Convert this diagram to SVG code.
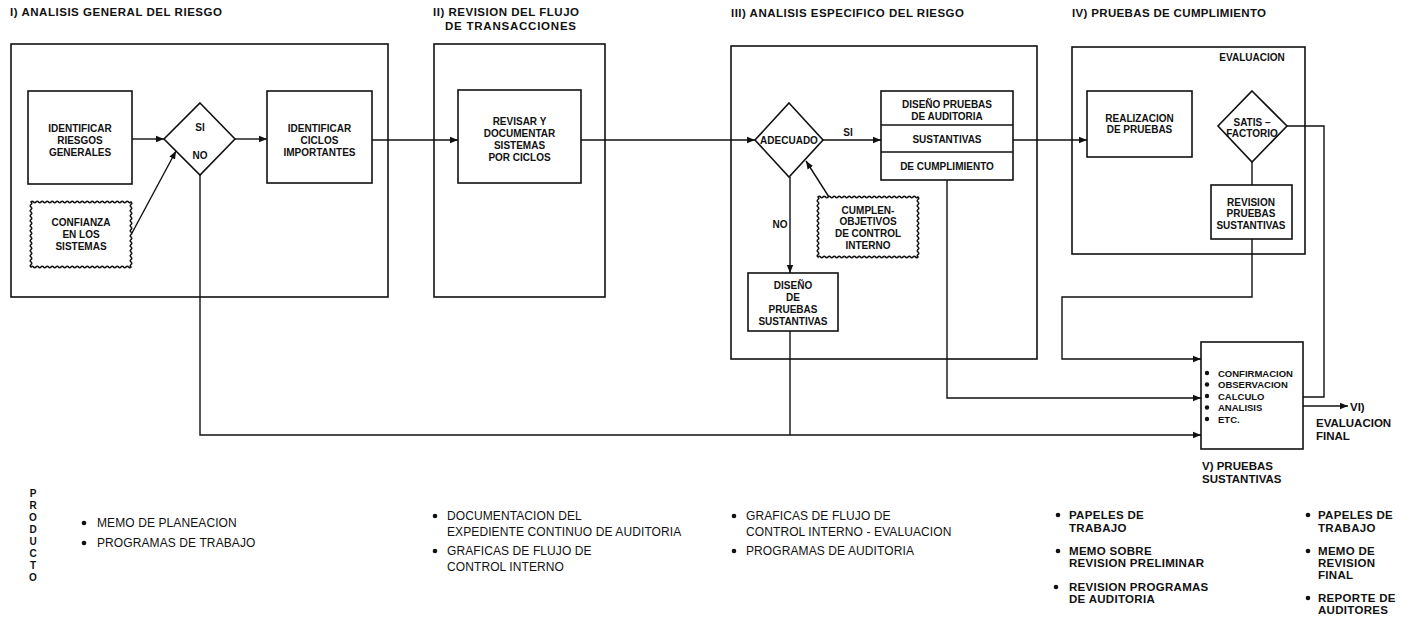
<svg xmlns="http://www.w3.org/2000/svg" width="1411" height="621" viewBox="0 0 1411 621">
<style>
.box{fill:none;stroke:#111;stroke-width:1.6}
.ln{fill:none;stroke:#111;stroke-width:1.4}
.arr{marker-end:url(#ah)}
text{font-family:"Liberation Sans",Arial,sans-serif;fill:#111}
.nb{font-size:10px;font-weight:bold;text-anchor:middle}
.vb{font-size:9.5px;font-weight:bold}
.ti{font-size:11.5px;font-weight:bold}
.bt{font-size:12px;letter-spacing:0.1px}
.bb{font-size:11.5px;font-weight:bold;letter-spacing:0.3px}
.pr{font-size:10px;font-weight:bold;text-anchor:middle}
</style>
<defs>
<marker id="ah" viewBox="0 0 10 10" refX="10" refY="5" markerWidth="8" markerHeight="8" markerUnits="userSpaceOnUse" orient="auto"><path d="M0,1 L10,5 L0,9 z" fill="#111"/></marker>
</defs>
<rect width="1411" height="621" fill="#fff"/>

<g id="titles">
<text class="ti" x="10" y="16" textLength="212">I) ANALISIS GENERAL DEL RIESGO</text>
<text class="ti" x="433" y="16" textLength="146">II) REVISION DEL FLUJO</text>
<text class="ti" x="445" y="30" textLength="131">DE TRANSACCIONES</text>
<text class="ti" x="731" y="17" textLength="233">III) ANALISIS ESPECIFICO DEL RIESGO</text>
<text class="ti" x="1072" y="17" textLength="194">IV) PRUEBAS DE CUMPLIMIENTO</text>
</g>

<g id="stage-I"><rect class="box" x="11" y="44" width="377" height="253"/></g>
<g id="stage-II"><rect class="box" x="434" y="44" width="171" height="253"/></g>
<g id="stage-III"><rect class="box" x="731" y="46" width="306" height="313"/></g>
<g id="stage-IV"><rect class="box" x="1072" y="47" width="233" height="207"/>
<text class="nb" x="1252" y="61">EVALUACION</text></g>

<g id="riesgos">
<rect class="box" x="28" y="91" width="104" height="93"/>
<text class="nb" x="80" y="131.5">IDENTIFICAR</text>
<text class="nb" x="80" y="143.5">RIESGOS</text>
<text class="nb" x="80" y="155.5">GENERALES</text>
</g>

<g id="confianza">
<path class="box" d="M31,202 q1.25,-1.5 2.5,0 t2.5,0 t2.5,0 t2.5,0 t2.5,0 t2.5,0 t2.5,0 t2.5,0 t2.5,0 t2.5,0 t2.5,0 t2.5,0 t2.5,0 t2.5,0 t2.5,0 t2.5,0 t2.5,0 t2.5,0 t2.5,0 t2.5,0 t2.5,0 t2.5,0 t2.5,0 t2.5,0 t2.5,0 t2.5,0 t2.5,0 t2.5,0 t2.5,0 t2.5,0 t2.5,0 t2.5,0 t2.5,0 t2.5,0 t2.5,0 t2.5,0 t2.5,0 t2.5,0 t2.5,0 t2.5,0 q1.5,1.25 0,2.5 t0,2.5 t0,2.5 t0,2.5 t0,2.5 t0,2.5 t0,2.5 t0,2.5 t0,2.5 t0,2.5 t0,2.5 t0,2.5 t0,2.5 t0,2.5 t0,2.5 t0,2.5 t0,2.5 t0,2.5 t0,2.5 t0,2.5 t0,2.5 t0,2.5 t0,2.5 t0,2.5 t0,2.5 t0,2.5 q-1.25,1.5 -2.5,0 t-2.5,0 t-2.5,0 t-2.5,0 t-2.5,0 t-2.5,0 t-2.5,0 t-2.5,0 t-2.5,0 t-2.5,0 t-2.5,0 t-2.5,0 t-2.5,0 t-2.5,0 t-2.5,0 t-2.5,0 t-2.5,0 t-2.5,0 t-2.5,0 t-2.5,0 t-2.5,0 t-2.5,0 t-2.5,0 t-2.5,0 t-2.5,0 t-2.5,0 t-2.5,0 t-2.5,0 t-2.5,0 t-2.5,0 t-2.5,0 t-2.5,0 t-2.5,0 t-2.5,0 t-2.5,0 t-2.5,0 t-2.5,0 t-2.5,0 t-2.5,0 t-2.5,0 q-1.5,-1.25 0,-2.5 t0,-2.5 t0,-2.5 t0,-2.5 t0,-2.5 t0,-2.5 t0,-2.5 t0,-2.5 t0,-2.5 t0,-2.5 t0,-2.5 t0,-2.5 t0,-2.5 t0,-2.5 t0,-2.5 t0,-2.5 t0,-2.5 t0,-2.5 t0,-2.5 t0,-2.5 t0,-2.5 t0,-2.5 t0,-2.5 t0,-2.5 t0,-2.5 t0,-2.5 z"/>
<text class="nb" x="81" y="225.5">CONFIANZA</text>
<text class="nb" x="81" y="237.5">EN LOS</text>
<text class="nb" x="81" y="249.5">SISTEMAS</text>
</g>

<g id="decision-sino">
<path class="box" d="M200,103 L235,139 L200,175 L164,139 Z"/>
<text class="nb" x="200" y="131">SI</text>
<text class="nb" x="200" y="159">NO</text>
</g>

<g id="ciclos">
<rect class="box" x="267" y="91" width="105" height="92"/>
<text class="nb" x="319.5" y="131.5">IDENTIFICAR</text>
<text class="nb" x="319.5" y="143.5">CICLOS</text>
<text class="nb" x="319.5" y="155.5">IMPORTANTES</text>
</g>

<g id="revisar">
<rect class="box" x="458" y="90" width="123" height="93"/>
<text class="nb" x="519.5" y="125">REVISAR Y</text>
<text class="nb" x="519.5" y="137">DOCUMENTAR</text>
<text class="nb" x="519.5" y="149">SISTEMAS</text>
<text class="nb" x="519.5" y="161">POR CICLOS</text>
</g>

<g id="adecuado">
<path class="box" d="M789,103 L823,140 L789,177 L755,140 Z"/>
<text class="nb" x="789" y="143.5">ADECUADO</text>
</g>

<g id="diseno-auditoria">
<rect class="box" x="881" y="91" width="132" height="89"/>
<line class="ln" x1="881" y1="125" x2="1013" y2="125"/>
<line class="ln" x1="881" y1="152" x2="1013" y2="152"/>
<text class="nb" x="947" y="108">DISEÑO PRUEBAS</text>
<text class="nb" x="947" y="120">DE AUDITORIA</text>
<text class="nb" x="947" y="143">SUSTANTIVAS</text>
<text class="nb" x="947" y="170">DE CUMPLIMIENTO</text>
</g>

<g id="cumplen">
<path class="box" d="M818,197 q1.25,-1.5 2.5,0 t2.5,0 t2.5,0 t2.5,0 t2.5,0 t2.5,0 t2.5,0 t2.5,0 t2.5,0 t2.5,0 t2.5,0 t2.5,0 t2.5,0 t2.5,0 t2.5,0 t2.5,0 t2.5,0 t2.5,0 t2.5,0 t2.5,0 t2.5,0 t2.5,0 t2.5,0 t2.5,0 t2.5,0 t2.5,0 t2.5,0 t2.5,0 t2.5,0 t2.5,0 t2.5,0 t2.5,0 t2.5,0 t2.5,0 t2.5,0 t2.5,0 t2.5,0 t2.5,0 t2.5,0 t2.5,0 q1.5,1.25 0,2.5 t0,2.5 t0,2.5 t0,2.5 t0,2.5 t0,2.5 t0,2.5 t0,2.5 t0,2.5 t0,2.5 t0,2.5 t0,2.5 t0,2.5 t0,2.5 t0,2.5 t0,2.5 t0,2.5 t0,2.5 t0,2.5 t0,2.5 t0,2.5 t0,2.5 t0,2.5 t0,2.5 q-1.25,1.5 -2.5,0 t-2.5,0 t-2.5,0 t-2.5,0 t-2.5,0 t-2.5,0 t-2.5,0 t-2.5,0 t-2.5,0 t-2.5,0 t-2.5,0 t-2.5,0 t-2.5,0 t-2.5,0 t-2.5,0 t-2.5,0 t-2.5,0 t-2.5,0 t-2.5,0 t-2.5,0 t-2.5,0 t-2.5,0 t-2.5,0 t-2.5,0 t-2.5,0 t-2.5,0 t-2.5,0 t-2.5,0 t-2.5,0 t-2.5,0 t-2.5,0 t-2.5,0 t-2.5,0 t-2.5,0 t-2.5,0 t-2.5,0 t-2.5,0 t-2.5,0 t-2.5,0 t-2.5,0 q-1.5,-1.25 0,-2.5 t0,-2.5 t0,-2.5 t0,-2.5 t0,-2.5 t0,-2.5 t0,-2.5 t0,-2.5 t0,-2.5 t0,-2.5 t0,-2.5 t0,-2.5 t0,-2.5 t0,-2.5 t0,-2.5 t0,-2.5 t0,-2.5 t0,-2.5 t0,-2.5 t0,-2.5 t0,-2.5 t0,-2.5 t0,-2.5 t0,-2.5 z"/>
<text class="nb" x="868" y="213.5">CUMPLEN-</text>
<text class="nb" x="868" y="225">OBJETIVOS</text>
<text class="nb" x="868" y="237">DE CONTROL</text>
<text class="nb" x="868" y="249">INTERNO</text>
</g>

<g id="diseno-sustantivas">
<rect class="box" x="748" y="273" width="90" height="58"/>
<text class="nb" x="793" y="289">DISEÑO</text>
<text class="nb" x="793" y="301">DE</text>
<text class="nb" x="793" y="313">PRUEBAS</text>
<text class="nb" x="793" y="325">SUSTANTIVAS</text>
</g>

<g id="realizacion">
<rect class="box" x="1087" y="91" width="105" height="66"/>
<text class="nb" x="1139.5" y="121.5">REALIZACION</text>
<text class="nb" x="1139.5" y="133">DE PRUEBAS</text>
</g>

<g id="satisfactorio">
<path class="box" d="M1252,91 L1287,126 L1252,162 L1218,126 Z"/>
<text class="nb" x="1252" y="125.5">SATIS –</text>
<text class="nb" x="1252" y="137">FACTORIO</text>
</g>

<g id="revision-pruebas">
<rect class="box" x="1211" y="185" width="81" height="54"/>
<text class="nb" x="1251" y="205.5">REVISION</text>
<text class="nb" x="1251" y="217">PRUEBAS</text>
<text class="nb" x="1251" y="229">SUSTANTIVAS</text>
</g>

<g id="pruebas-sustantivas">
<rect class="box" x="1201" y="342" width="102" height="107"/>
<circle cx="1207" cy="373" r="2.2" fill="#111"/>
<circle cx="1207" cy="384.5" r="2.2" fill="#111"/>
<circle cx="1207" cy="396" r="2.2" fill="#111"/>
<circle cx="1207" cy="407.5" r="2.2" fill="#111"/>
<circle cx="1207" cy="419" r="2.2" fill="#111"/>
<text class="vb" x="1218" y="376.5">CONFIRMACION</text>
<text class="vb" x="1218" y="388">OBSERVACION</text>
<text class="vb" x="1218" y="399.5">CALCULO</text>
<text class="vb" x="1218" y="411">ANALISIS</text>
<text class="vb" x="1218" y="422.5">ETC.</text>
<text class="ti" x="1202" y="470">V) PRUEBAS</text>
<text class="ti" x="1202" y="483">SUSTANTIVAS</text>
</g>

<g id="evaluacion-final">
<text class="ti" x="1350" y="411">VI)</text>
<text class="ti" x="1316" y="427">EVALUACION</text>
<text class="ti" x="1316" y="440">FINAL</text>
</g>

<g id="connectors">
<line class="ln arr" x1="132" y1="139" x2="164" y2="139"/>
<line class="ln arr" x1="132" y1="233" x2="176" y2="151"/>
<line class="ln arr" x1="235" y1="139" x2="267" y2="139"/>
<line class="ln arr" x1="372" y1="140" x2="458" y2="140"/>
<line class="ln arr" x1="581" y1="140" x2="755" y2="140"/>
<line class="ln arr" x1="823" y1="140" x2="881" y2="140"/>
<text class="nb" x="848" y="136">SI</text>
<line class="ln arr" x1="1013" y1="140" x2="1087" y2="140"/>
<line class="ln arr" x1="790" y1="177" x2="790" y2="273"/>
<text class="nb" x="780" y="228">NO</text>
<line class="ln arr" x1="829" y1="197" x2="806" y2="161"/>
<line class="ln" x1="790" y1="331" x2="790" y2="435"/>
<polyline class="ln arr" points="200,175 200,435 1201,435"/>
<polyline class="ln arr" points="947,180 947,398 1201,398"/>
<line class="ln" x1="1252" y1="162" x2="1252" y2="185"/>
<polyline class="ln arr" points="1252,239 1252,297 1062,297 1062,359 1201,359"/>
<polyline class="ln" points="1287,126 1324,126 1324,397 1303,397"/>
<line class="ln arr" x1="1303" y1="406" x2="1348" y2="406"/>
</g>

<g id="producto">
<text class="pr" x="33" y="497">P</text>
<text class="pr" x="33" y="509">R</text>
<text class="pr" x="33" y="521">O</text>
<text class="pr" x="33" y="533">D</text>
<text class="pr" x="33" y="545">U</text>
<text class="pr" x="33" y="557">C</text>
<text class="pr" x="33" y="569">T</text>
<text class="pr" x="33" y="581">O</text>
</g>

<g id="producto-I">
<circle cx="84" cy="523" r="2.3" fill="#111"/>
<circle cx="84" cy="543" r="2.3" fill="#111"/>
<text class="bt" x="97" y="527">MEMO DE PLANEACION</text>
<text class="bt" x="97" y="547">PROGRAMAS DE TRABAJO</text>
</g>

<g id="producto-II">
<circle cx="435" cy="516" r="2.3" fill="#111"/>
<circle cx="435" cy="551" r="2.3" fill="#111"/>
<text class="bt" x="447" y="520">DOCUMENTACION DEL</text>
<text class="bt" x="447" y="536">EXPEDIENTE CONTINUO DE AUDITORIA</text>
<text class="bt" x="447" y="555">GRAFICAS DE FLUJO DE</text>
<text class="bt" x="447" y="571">CONTROL INTERNO</text>
</g>

<g id="producto-III">
<circle cx="734" cy="516" r="2.3" fill="#111"/>
<circle cx="734" cy="551" r="2.3" fill="#111"/>
<text class="bt" x="746" y="520">GRAFICAS DE FLUJO DE</text>
<text class="bt" x="746" y="536">CONTROL INTERNO - EVALUACION</text>
<text class="bt" x="746" y="555">PROGRAMAS DE AUDITORIA</text>
</g>

<g id="producto-IV">
<circle cx="1058" cy="515" r="2.3" fill="#111"/>
<circle cx="1058" cy="551" r="2.3" fill="#111"/>
<circle cx="1056" cy="587" r="2.3" fill="#111"/>
<text class="bb" x="1069" y="519">PAPELES DE</text>
<text class="bb" x="1069" y="532">TRABAJO</text>
<text class="bb" x="1069" y="555">MEMO SOBRE</text>
<text class="bb" x="1069" y="567">REVISION PRELIMINAR</text>
<text class="bb" x="1069" y="591">REVISION PROGRAMAS</text>
<text class="bb" x="1069" y="603">DE AUDITORIA</text>
</g>

<g id="producto-V">
<circle cx="1308" cy="515" r="2.3" fill="#111"/>
<circle cx="1308" cy="551" r="2.3" fill="#111"/>
<circle cx="1308" cy="598" r="2.3" fill="#111"/>
<text class="bb" x="1318" y="519">PAPELES DE</text>
<text class="bb" x="1318" y="532">TRABAJO</text>
<text class="bb" x="1318" y="555">MEMO DE</text>
<text class="bb" x="1318" y="567">REVISION</text>
<text class="bb" x="1318" y="579">FINAL</text>
<text class="bb" x="1318" y="602">REPORTE DE</text>
<text class="bb" x="1318" y="614">AUDITORES</text>
</g>
</svg>
